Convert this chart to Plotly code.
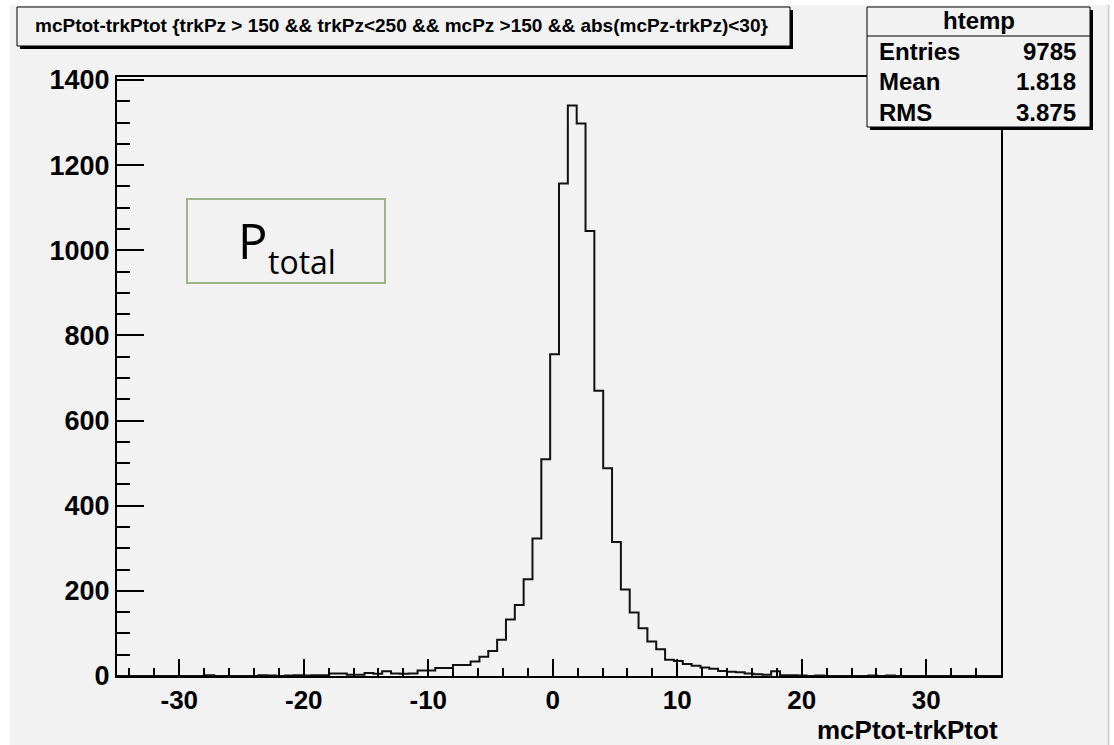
import plotly.graph_objects as go

# ---------------- data ----------------
XMIN, XMAX, NBINS = -35.0, 36.0, 100
counts = [
    0, 0, 0, 0, 0, 0, 0, 0, 0, 0,          # 0-9
    2, 0, 0, 0, 0, 0, 2, 1, 0, 1,          # 10-19
    2, 1, 2, 2, 6, 6, 3, 3, 7, 5,          # 20-29
    11, 6, 5, 6, 13, 13, 19, 19, 26, 26,   # 30-39
    34, 45, 59, 85, 133, 167, 227, 323, 509, 756,        # 40-49
    1157, 1340, 1298, 1045, 670, 488, 315, 203, 149, 112,  # 50-59
    81, 63, 38, 35, 28, 24, 20, 17, 12, 10,  # 60-69
    9, 6, 4, 3, 11, 2, 2, 1, 0, 1,           # 70-79
    0, 0, 0, 0, 0, 1, 0, 1, 0, 0,            # 80-89
    0, 0, 0, 0, 0, 0, 0, 0, 0, 0,            # 90-99
]
x_tick_vals = [-30, -20, -10, 0, 10, 20, 30]
y_tick_vals = [0, 200, 400, 600, 800, 1000, 1200, 1400]
hist_name = "htemp"
stats_labels = ["Entries", "Mean", "RMS"]
stats_values = ["9785", "1.818", "3.875"]
title_text = "mcPtot-trkPtot {trkPz > 150 && trkPz<250 && mcPz >150 && abs(mcPz-trkPz)<30}"
x_title = "mcPtot-trkPtot"

# ---------------- layout helpers ----------------
W, H = 1114, 745
L, R, T, B = 117, 113, 77, 69
PW, PH = W - L - R, H - T - B


def px(x):
    return (x - L) / PW


def py(y):
    return (H - B - y) / PH


bw = (XMAX - XMIN) / NBINS
edges = [XMIN + i * bw for i in range(NBINS + 1)]
ys = counts + [counts[-1]]
ymax = 1.05 * max(counts)

FONT = "Liberation Sans"
BG = "#f2f2f2"

fig = go.Figure()
fig.add_trace(go.Scatter(
    x=edges, y=ys, mode="lines",
    line=dict(shape="hv", color="#111111", width=2),
    hoverinfo="skip", showlegend=False,
))

shapes = []
# canvas background
shapes.append(dict(type="rect", xref="paper", yref="paper", layer="below",
                   x0=px(10), x1=px(1107), y0=py(745), y1=py(5),
                   fillcolor=BG, line=dict(width=0)))
shapes.append(dict(type="line", xref="paper", yref="paper", layer="below",
                   x0=px(1108.5), x1=px(1108.5), y0=py(745), y1=py(5),
                   line=dict(color="#cfcfcf", width=2)))


def pave(x0, y0, x1, y1, shadow=3):
    shapes.append(dict(type="rect", xref="paper", yref="paper",
                       x0=px(x0 + shadow), x1=px(x1 + shadow),
                       y0=py(y1 + shadow), y1=py(y0 + shadow),
                       fillcolor="black", line=dict(width=0)))
    shapes.append(dict(type="rect", xref="paper", yref="paper",
                       x0=px(x0), x1=px(x1), y0=py(y1), y1=py(y0),
                       fillcolor=BG, line=dict(color="black", width=1)))


# title pave
pave(17, 7, 790, 46)
# stats pave
pave(867, 7, 1090, 127)
shapes.append(dict(type="line", xref="paper", yref="paper",
                   x0=px(867), x1=px(1090), y0=py(36), y1=py(36),
                   line=dict(color="black", width=1)))
# P_total box
shapes.append(dict(type="rect", xref="paper", yref="paper",
                   x0=px(187), x1=px(385), y0=py(283), y1=py(199),
                   fillcolor="rgba(0,0,0,0)", line=dict(color="#9fb38a", width=2)))

annotations = []
bold = dict(family=FONT, weight="bold", color="black")
annotations.append(dict(xref="paper", yref="paper", x=px(33), y=py(26),
                        xanchor="left", yanchor="middle", showarrow=False,
                        text=title_text, font=dict(size=19, **bold)))
annotations.append(dict(xref="paper", yref="paper", x=px(978.5), y=py(21),
                        xanchor="center", yanchor="middle", showarrow=False,
                        text=hist_name, font=dict(size=24, **bold)))
for i, (lab, val) in enumerate(zip(stats_labels, stats_values)):
    yc = 52 + 30 * i
    annotations.append(dict(xref="paper", yref="paper", x=px(877), y=py(yc),
                            xanchor="left", yanchor="middle", showarrow=False,
                            text=lab, font=dict(size=24, **bold)))
    annotations.append(dict(xref="paper", yref="paper", x=px(1078), y=py(yc),
                            xanchor="right", yanchor="middle", showarrow=False,
                            text=val, font=dict(size=24, **bold)))
annotations.append(dict(xref="paper", yref="paper", x=px(1000), y=py(730),
                        xanchor="right", yanchor="middle", showarrow=False,
                        text=x_title, font=dict(size=26, **bold)))
annotations.append(dict(xref="paper", yref="paper", x=px(236), y=py(240),
                        xanchor="left", yanchor="middle", showarrow=False,
                        text="P", font=dict(size=49, family="Open Sans", color="black")))
annotations.append(dict(xref="paper", yref="paper", x=px(266), y=py(261),
                        xanchor="left", yanchor="middle", showarrow=False,
                        text="total", font=dict(size=32, family="Open Sans", color="black")))

fig.update_layout(
    width=W, height=H,
    margin=dict(l=L, r=R, t=T, b=B, pad=0),
    paper_bgcolor="white", plot_bgcolor=BG,
    shapes=shapes, annotations=annotations,
    showlegend=False, hovermode=False,
    xaxis=dict(
        range=[XMIN, XMAX], tickmode="array", tickvals=x_tick_vals,
        ticktext=[str(v) for v in x_tick_vals],
        ticks="inside", ticklen=17, tickwidth=1.5, tickcolor="black",
        minor=dict(ticks="inside", ticklen=8, tickwidth=1.5, tickcolor="black",
                   tick0=0, dtick=2),
        showline=True, mirror=True, linecolor="black", linewidth=2,
        showgrid=False, zeroline=False,
        tickfont=dict(size=26, **bold), ticklabelstandoff=0,
    ),
    yaxis=dict(
        range=[0, ymax], tickmode="array", tickvals=y_tick_vals,
        ticktext=[str(v) for v in y_tick_vals],
        ticks="inside", ticklen=27, tickwidth=1.5, tickcolor="black",
        minor=dict(ticks="inside", ticklen=13, tickwidth=1.5, tickcolor="black",
                   tick0=0, dtick=50),
        showline=True, mirror=True, linecolor="black", linewidth=2,
        showgrid=False, zeroline=False,
        tickfont=dict(size=27, **bold), ticklabelstandoff=0,
    ),
)

fig.write_html("out.html")
